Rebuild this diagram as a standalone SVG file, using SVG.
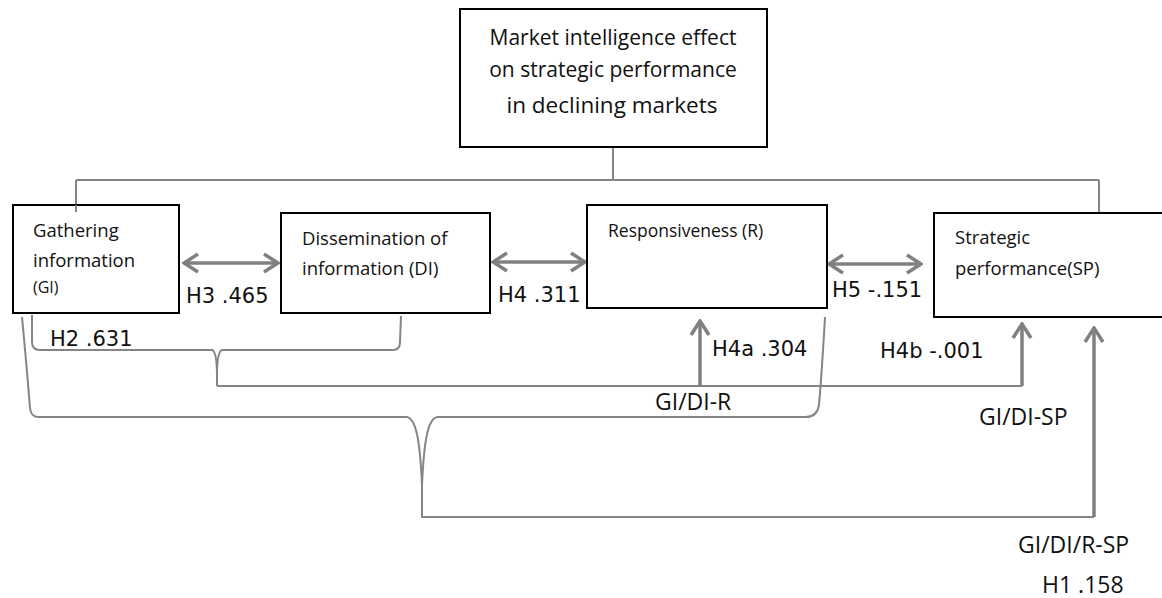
<svg xmlns="http://www.w3.org/2000/svg" width="1162" height="598" viewBox="0 0 1162 598">
<style>
  .box { fill: #ffffff; stroke: #000000; stroke-width: 2; }
  .t { font-family: "Open Sans", "Liberation Sans", sans-serif; fill: #111111; }
  .h { font-family: "DejaVu Sans", "Liberation Sans", sans-serif; fill: #111111; font-size: 21px; }
  .lbl { font-family: "Open Sans", "Liberation Sans", sans-serif; fill: #111111; font-size: 23px; }
  .thin { fill: none; stroke: #858585; stroke-width: 2; }
  .arr { fill: none; stroke: #808080; stroke-width: 3.5; }
</style>
<defs>
  <marker id="head" markerUnits="userSpaceOnUse" viewBox="-18 -12 20 24" markerWidth="20" markerHeight="24" refX="0" refY="0" orient="auto-start-reverse">
    <path d="M-14,-9 L0,0 L-14,9" fill="none" stroke="#808080" stroke-width="3.5"/>
  </marker>
</defs>
<rect width="1162" height="598" fill="#ffffff"/>

<g id="connectors">
  <path class="thin" d="M613,147 L613,180 M76,180 L1099,180 M76,180 L76,212 M1099,180 L1099,213"/>
  <!-- small bracket GI+DI -->
  <path class="thin" d="M32,315 L32,342 Q32,350 40,350 L212,350 C215,351 217,360 217,376 L217,386"/>
  <path class="thin" d="M222,350 C219,351 217,360 217,376"/>
  <path class="thin" d="M222,350 L393,350 Q400,350 400,342 L401,316"/>
  <!-- line 386 -->
  <path class="thin" d="M217,386 L1022,386"/>
  <!-- big bracket GI+DI+R -->
  <path class="thin" d="M22,317 Q27,370 30,408 Q31,417 38,417 L407,417 C416,419 420,440 422,485 L422,517 L1094,517"/>
  <path class="thin" d="M437,417 C428,419 424,440 422,485"/>
  <path class="thin" d="M437,417 L806,417 Q817,417 819,405 Q822,370 825,317"/>
  <!-- arrows -->
  <line class="arr" x1="184" y1="263" x2="278" y2="263" marker-start="url(#head)" marker-end="url(#head)"/>
  <line class="arr" x1="493" y1="262" x2="585" y2="262" marker-start="url(#head)" marker-end="url(#head)"/>
  <line class="arr" x1="829" y1="264" x2="921" y2="264" marker-start="url(#head)" marker-end="url(#head)"/>
  <line class="arr" x1="700" y1="386" x2="700" y2="321" marker-end="url(#head)"/>
  <line class="arr" x1="1022" y1="386" x2="1022" y2="324" marker-end="url(#head)"/>
  <line class="arr" x1="1094" y1="517" x2="1094" y2="328" marker-end="url(#head)"/>
  <!-- labels -->
  <text class="h" x="186" y="303">H3 .465</text>
  <text class="h" x="498" y="302">H4 .311</text>
  <text class="h" x="832" y="297">H5 -.151</text>
  <text class="h" x="50" y="346">H2 .631</text>
  <text class="h" x="712" y="356">H4a .304</text>
  <text class="h" x="880" y="358">H4b -.001</text>
  <text class="lbl" x="655" y="410">GI/DI-R</text>
  <text class="lbl" x="979" y="425">GI/DI-SP</text>
  <text class="lbl" x="1018" y="553">GI/DI/R-SP</text>
  <text class="lbl" x="1042" y="593">H1 .158</text>
</g>

<g id="node-main">
  <rect class="box" x="460" y="9" width="307" height="138"/>
  <text class="t" x="613" y="45" font-size="21" text-anchor="middle">Market intelligence effect</text>
  <text class="t" x="613" y="77" font-size="21" text-anchor="middle">on strategic performance</text>
  <text class="t" x="612" y="113" font-size="22.5" text-anchor="middle">in declining markets</text>
</g>

<g id="node-gi">
  <rect class="box" x="13" y="205" width="166" height="108"/>
  <path class="thin" d="M76,205 L76,212"/>
  <text class="t" x="33" y="237" font-size="18.5">Gathering</text>
  <text class="t" x="33" y="267" font-size="18.5">information</text>
  <text class="t" x="33" y="293" font-size="16">(GI)</text>
</g>

<g id="node-di">
  <rect class="box" x="281" y="213" width="209" height="100"/>
  <text class="t" x="302" y="245" font-size="18.5">Dissemination of</text>
  <text class="t" x="302" y="275" font-size="18.5">information (DI)</text>
</g>

<g id="node-r">
  <rect class="box" x="587" y="205" width="240" height="103"/>
  <text class="t" x="608" y="237" font-size="17.5">Responsiveness (R)</text>
</g>

<g id="node-sp">
  <rect class="box" x="934" y="213" width="240" height="104"/>
  <text class="t" x="955" y="244" font-size="18.5">Strategic</text>
  <text class="t" x="955" y="275" font-size="18.5">performance(SP)</text>
</g>
</svg>
